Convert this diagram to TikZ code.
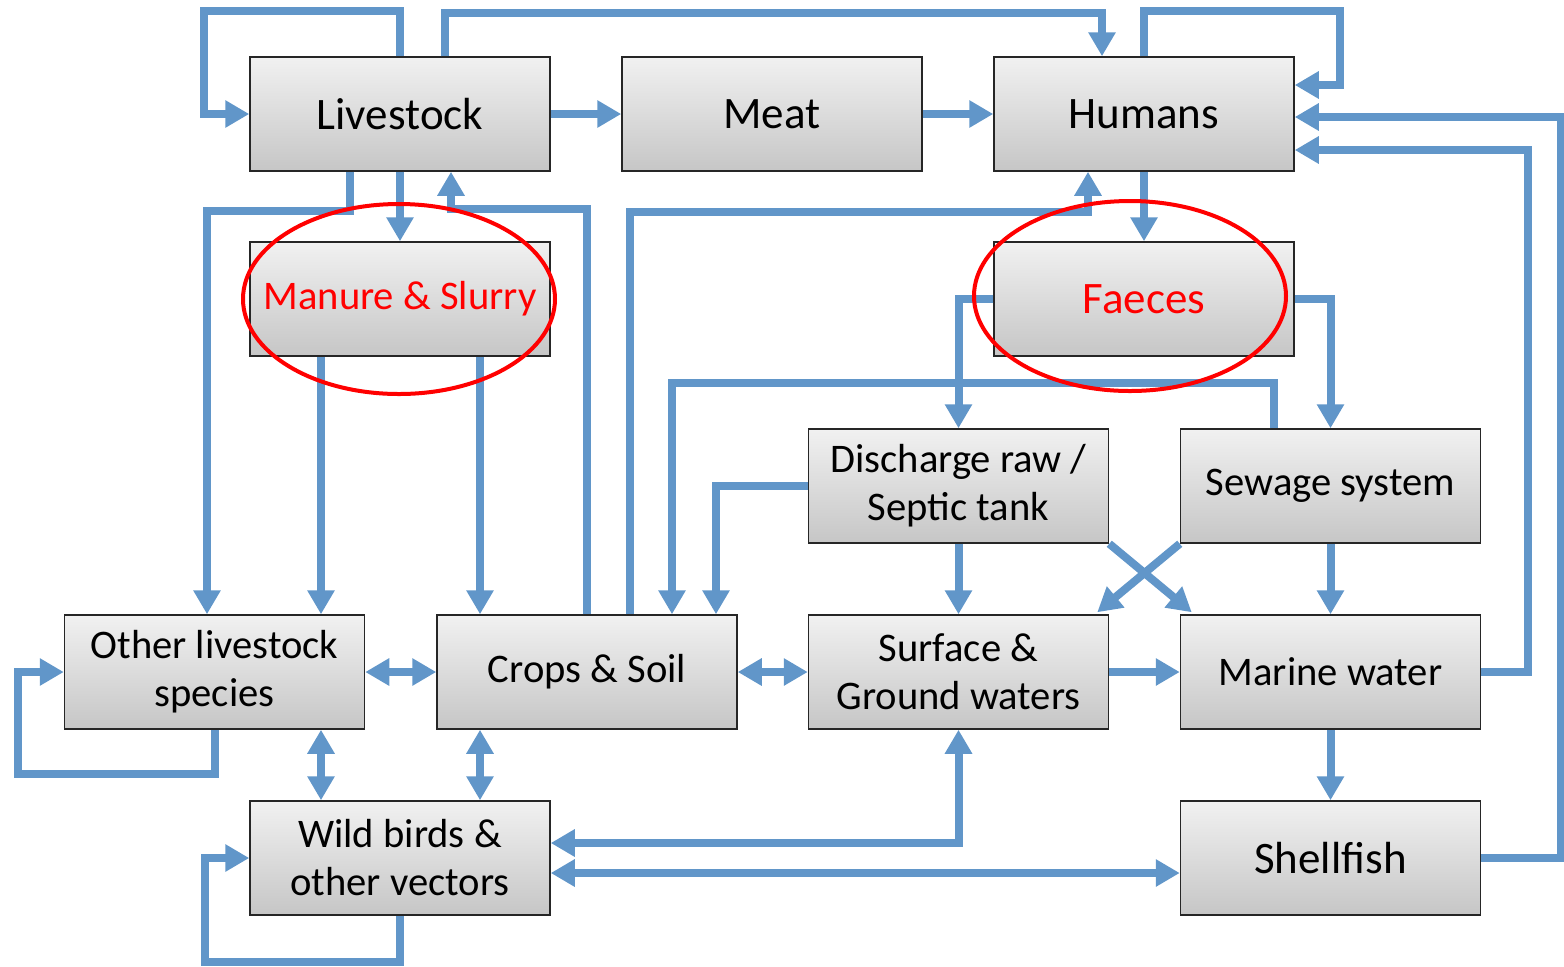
\documentclass[tikz,border=0pt]{standalone}
\usepackage{fontspec}
\setmainfont{Carlito}
\usetikzlibrary{arrows.meta,calc,shapes.geometric}
\definecolor{flowblue}{RGB}{97,150,201}
\definecolor{boxtop}{RGB}{241,241,241}
\definecolor{boxbot}{RGB}{198,198,198}
\definecolor{boxline}{RGB}{38,38,38}
\begin{document}
\begin{tikzpicture}[x=0.5pt,y=-0.5pt,
  box/.style={draw=boxline, line width=0.75pt, top color=boxtop, bottom color=boxbot,
    minimum width=150pt, minimum height=57pt, inner sep=0pt, align=center,
    font=\fontsize{20.3}{24}\selectfont},
  bigtext/.style={font=\fontsize{22.5}{24}\selectfont},
  redtext/.style={text=red},
  flow/.style={draw=flowblue, line width=4pt, -{Triangle[length=12pt,width=13pt]}},
  biflow/.style={draw=flowblue, line width=4pt, {Triangle[length=12pt,width=13pt]}-{Triangle[length=12pt,width=13pt]}},
  ring/.style={draw=red, line width=2pt, ellipse, inner sep=0pt, minimum width=156pt, minimum height=95pt}
]
\useasboundingbox (0,0) rectangle (1564,966);

% boxes
\node[box,bigtext] (livestock) at (400,114) {Livestock};
\node[box,bigtext] (meat) at (772,114) {Meat};
\node[box,bigtext] (humans) at (1144,114) {Humans};
\node[box,redtext] (manure) at (400,299) {Manure \& Slurry};
\node[box,bigtext,redtext] (faeces) at (1144,299) {Faeces};
\node[box] (discharge) at (958.5,486) {Discharge raw /\\Septic tank};
\node[box] (sewage) at (1330.5,486) {Sewage system};
\node[box] (other) at (214.5,672) {Other livestock\\species};
\node[box] (crops) at (587,672) {Crops \& Soil};
\node[box] (surface) at (958.5,672) {Surface \&\\Ground waters};
\node[box] (marine) at (1330.5,672) {Marine water};
\node[box] (wild) at (400,858) {Wild birds \&\\other vectors};
\node[box,bigtext] (shell) at (1330.5,858) {Shellfish};

% connectors
\draw[flow] (livestock.north) -- ++(0,-45) -| ($(livestock.west)+(-45,0)$) -- (livestock.west);
\draw[flow] ($(livestock.north)+(45,0)$) -- ++(0,-43) -| ($(humans.north)+(-42,0)$);
\draw[flow] (humans.north) -- ++(0,-45) -- ++(196,0) |- ($(humans.east)+(0,-29)$);
\draw[flow] (livestock) -- (meat);
\draw[flow] (meat) -- (humans);
\draw[flow] (marine.east) -- ++(47,0) |- ($(humans.east)+(0,36)$);
\draw[flow] (shell.east) -- ++(80,0) |- ($(humans.east)+(0,3)$);
\draw[flow] ($(livestock.south)+(-50,0)$) -- ++(0,39) -| ($(other.north)+(-7.5,0)$);
\draw[flow] (livestock) -- (manure);
\draw[flow] (crops.north) |- ($(livestock.south)+(51,37)$) -- ($(livestock.south)+(51,0)$);
\draw[flow] ($(manure.south)+(-79,0)$) -- ($(other.north)+(106.5,0)$);
\draw[flow] ($(manure.south)+(80,0)$) -- ($(crops.north)+(-107,0)$);
\draw[flow] ($(crops.north)+(43,0)$) |- ($(humans.south)+(-56,40)$) -- ($(humans.south)+(-56,0)$);
\draw[flow] (humans) -- (faeces);
\draw[flow] (faeces.west) -| (discharge.north);
\draw[flow] (faeces.east) -| (sewage.north);
\draw[flow] ($(sewage.north)+(-56.5,0)$) |- ($(crops.north)+(85,-231)$) -- ($(crops.north)+(85,0)$);
\draw[flow] (discharge.west) -| ($(crops.north)+(129,0)$);
\draw[flow] (discharge) -- (surface);
\draw[flow] (sewage) -- (marine);
\draw[flow] (discharge.south east) -- ($(marine.north west)+(12,-2)$);
\draw[flow] (sewage.south west) -- ($(surface.north east)+(-12,-2)$);
\draw[flow] (surface) -- (marine);
\draw[biflow] (crops) -- (surface);
\draw[biflow] (other) -- (crops);
\draw[flow] (other.south) -- ++(0,44) -- ++(-197,0) |- (other.west);
\draw[biflow] ($(other.south)+(106.5,0)$) -- ($(wild.north)+(-79,0)$);
\draw[biflow] ($(crops.south)+(-107,0)$) -- ($(wild.north)+(80,0)$);
\draw[biflow] ($(wild.east)+(0,-15)$) -| (surface.south);
\draw[biflow] ($(wild.east)+(0,15)$) -- ($(shell.west)+(0,15)$);
\draw[flow] (wild.south) -- ++(0,46) -- ++(-195,0) |- (wild.west);
\draw[flow] (marine) -- (shell);

% highlight rings
\node[ring] (ringmanure) at (399,299) {};
\node[ring] (ringfaeces) at (1130,296) {};
\end{tikzpicture}
\end{document}
